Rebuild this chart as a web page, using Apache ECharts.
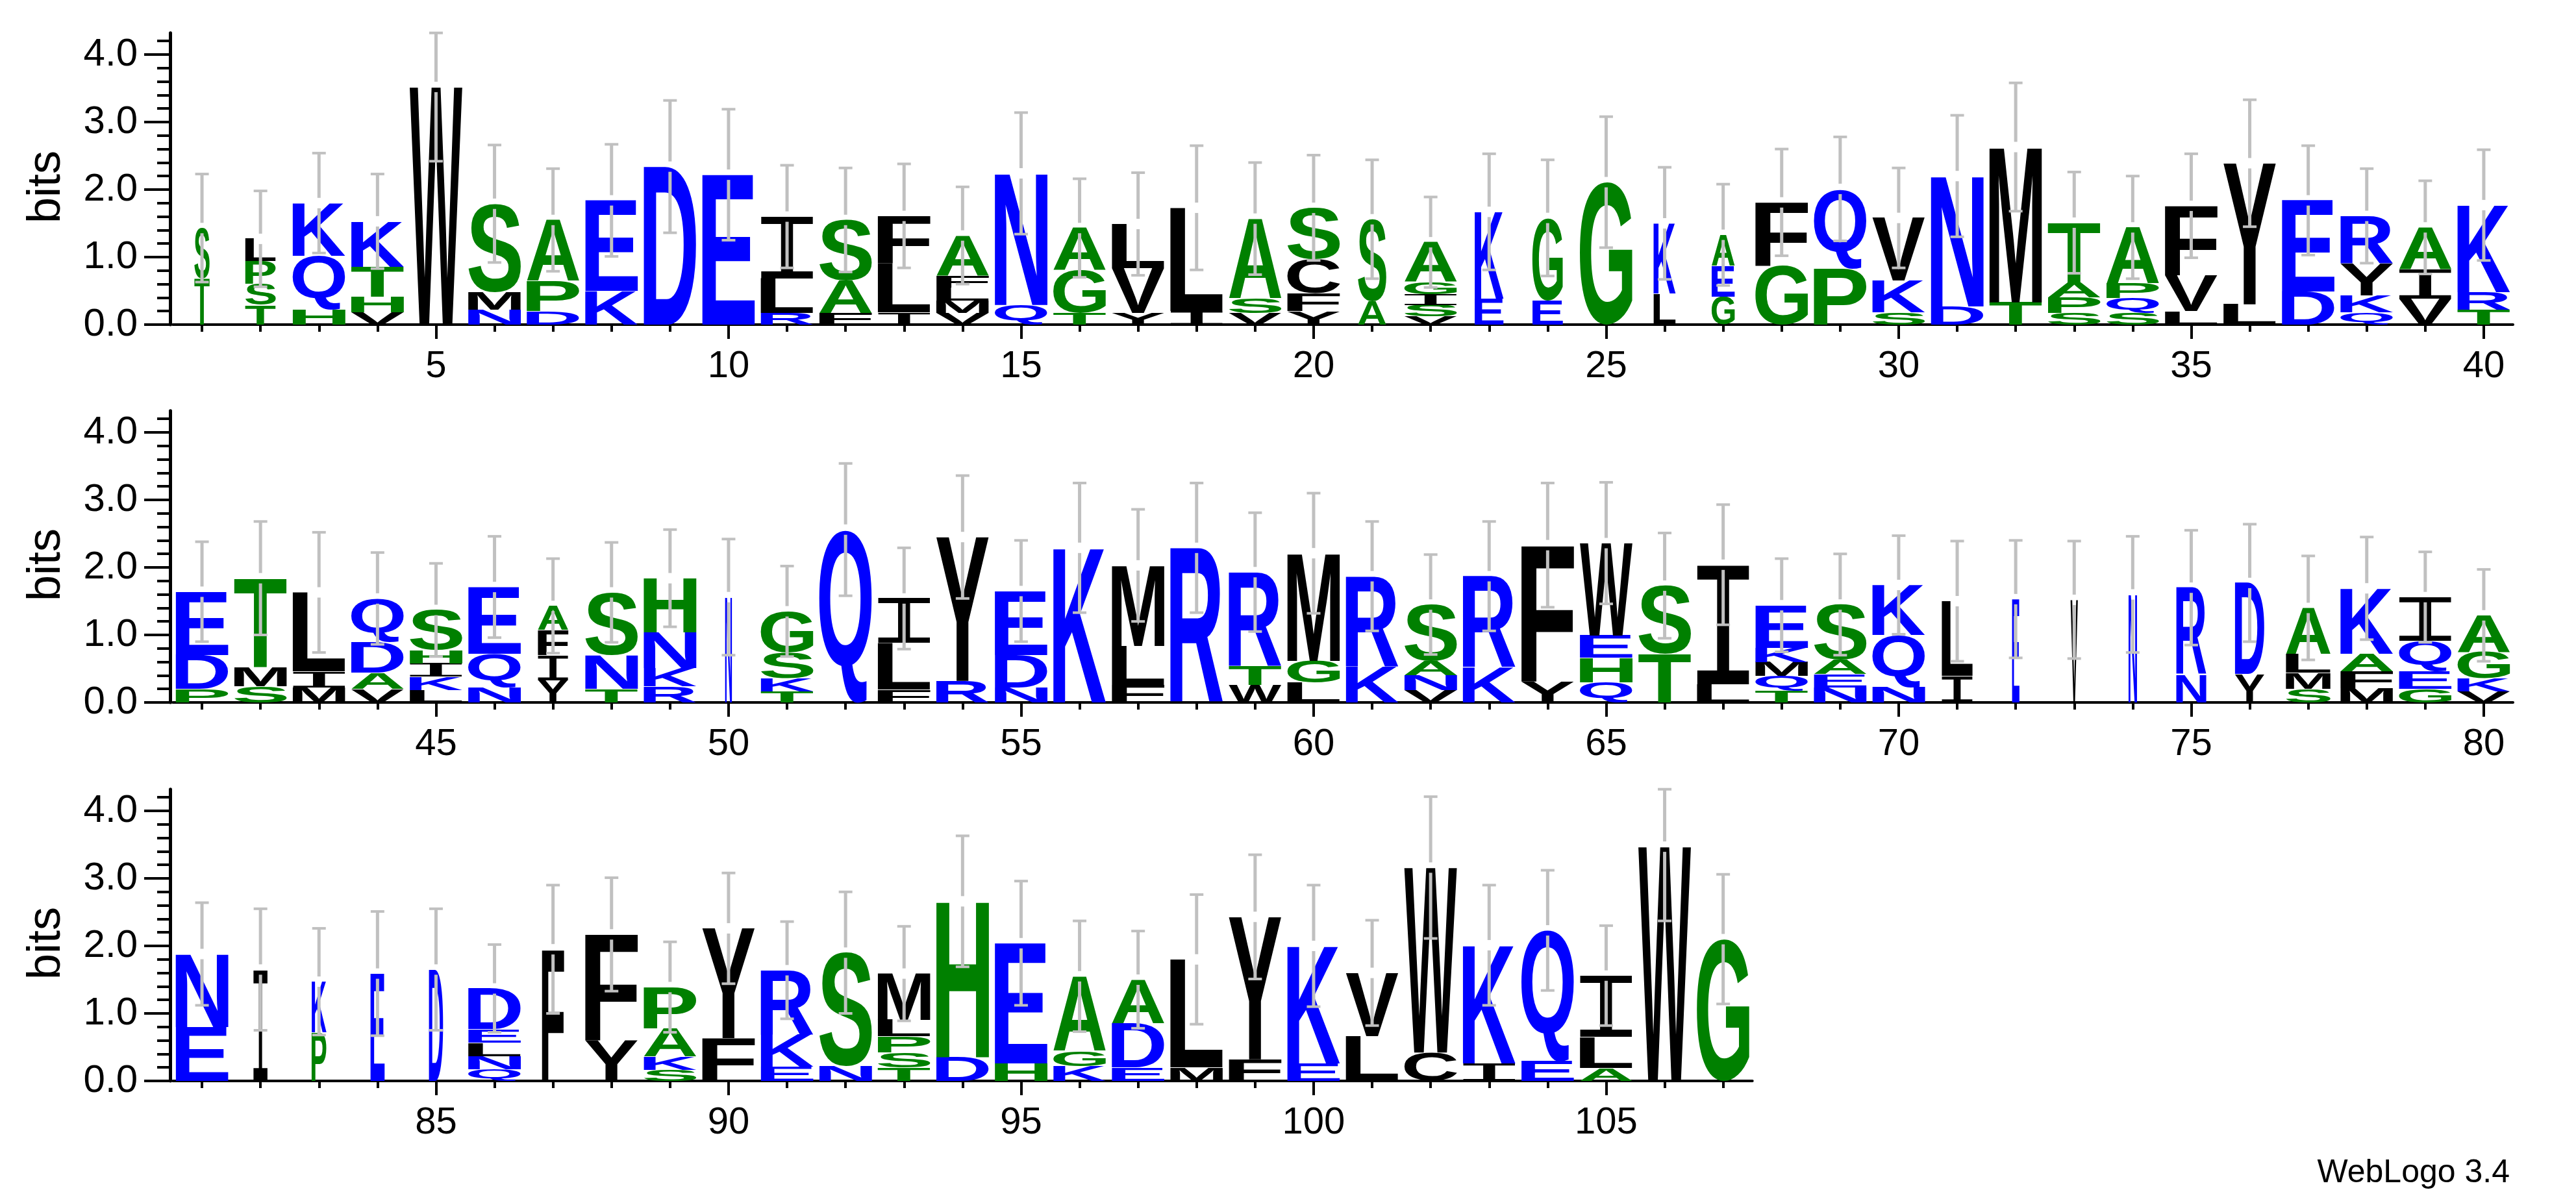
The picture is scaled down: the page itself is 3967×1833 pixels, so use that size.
<!DOCTYPE html>
<html><head><meta charset="utf-8">
<script src="https://cdn.jsdelivr.net/npm/echarts@6/dist/echarts.min.js"></script>
<style>html,body{margin:0;padding:0;background:#fff}#c{width:3967px;height:1833px}</style>
</head><body><div id="c"></div>
<script>
// ---- data (letters listed bottom -> top for each position) ----
const stackLetters = [
 'TS','TSPL','HQK','VHTK','W','NMS','DPA','KE','D','E',
 'RLI','FAS','ILF','VMLFA','QN','TGA','YVL','IL','VSA','YFCS',
 'AS','VSIGA','EK','EG','G','LK','GEA','GF','PQ','SKV',
 'DN','TM','SPAT','SQPA','LVF','LY','DE','QKYR','VIA','TRK',
 'PDE','SMT','MIL','VADQ','LKIHS','NQE','YIFA','TNS','RKNH','N',
 'TKSG','Q','FLI','RY','NDE','K','FLM','R','WTR','LGM',
 'KR','VNAS','KR','YF','QHEW','TS','LI','TQMKE','NEAS','NQK',
 'IL','E','V','N','NR','YD','SMLA','MFAK','GEQI','VKGA',
 'EN','I','PK','E','D','QNLED','F','YF','SKAP','FY',
 'EKR','NS','TSPLM','DH','HE','KGA','EDA','ML','FY','EK',
 'LV','CW','IK','EQ','ALI','W','G'
];
const stackHeights = [
 [0.68,0.75],[0.29,0.32,0.33,0.33],[0.22,0.8,0.78],[0.18,0.23,0.45,0.67],[3.52],
 [0.22,0.26,1.31],[0.2,0.45,0.9],[0.5,1.34],[2.34],[2.22],
 [0.17,0.51,0.92],[0.17,0.48,0.9],[0.18,0.72,0.71],[0.17,0.19,0.19,0.17,0.6],[0.29,1.95],
 [0.17,0.63,0.63],[0.17,0.67,0.65],[0.2,1.53],[0.17,0.22,1.18],[0.2,0.26,0.51,0.76],
 [0.35,1.21],[0.12,0.17,0.16,0.18,0.59],[0.38,1.29],[0.36,1.22],[2.11],
 [0.46,1.04],[0.41,0.46,0.46],[0.87,0.94],[0.83,1.18],[0.18,0.47,0.93],
 [0.27,1.93],[0.33,2.3],[0.17,0.23,0.22,0.89],[0.17,0.22,0.22,0.83],[0.2,0.53,1.03],
 [0.3,2.09],[0.49,1.35],[0.18,0.25,0.47,0.71],[0.38,0.44,0.62],[0.22,0.26,1.29],
 [0.2,0.5,0.94],[0.24,0.28,1.32],[0.22,0.24,1.17],[0.2,0.24,0.46,0.64],[0.18,0.2,0.2,0.2,0.59],
 [0.22,0.5,0.99],[0.33,0.37,0.37,0.36],[0.2,0.5,0.93],[0.24,0.27,0.53,0.8],[1.56],
 [0.16,0.2,0.38,0.61],[2.56],[0.19,0.69,0.66],[0.32,2.13],[0.22,0.48,0.95],
 [2.29],[0.26,0.58,1.19],[2.29],[0.26,0.28,1.39],[0.29,0.33,1.59],
 [0.53,1.34],[0.18,0.22,0.21,0.84],[0.52,1.35],[0.31,2.02],[0.3,0.36,0.33,1.37],
 [0.72,1.01],[0.27,1.77],[0.17,0.22,0.21,0.21,0.63],[0.22,0.2,0.21,0.82],[0.23,0.77,0.74],
 [0.39,1.11],[1.53],[1.52],[1.6],[0.41,1.29],
 [0.42,1.35],[0.2,0.24,0.28,0.68],[0.21,0.25,0.26,0.97],[0.2,0.26,0.45,0.65],[0.16,0.2,0.39,0.54],
 [0.8,1.08],[1.65],[0.72,0.75],[1.59],[1.65],
 [0.17,0.2,0.2,0.2,0.6],[1.95],[0.6,1.57],[0.16,0.2,0.42,0.61],[0.63,1.63],
 [0.21,0.48,0.95],[0.22,1.68],[0.2,0.22,0.24,0.24,0.69],[0.35,2.31],[0.26,1.78],
 [0.22,0.22,1.11],[0.2,0.65,0.65],[0.2,1.6],[0.32,2.11],[0.26,1.74],
 [0.66,0.94],[0.42,2.74],[0.26,1.75],[0.29,1.94],[0.19,0.46,0.91],
 [3.47],[2.1]
];
const errorBars = [
 0.8,0.71,0.74,0.7,1.1,0.87,0.76,0.83,0.98,0.97,
 0.76,0.77,0.77,0.72,0.9,0.73,0.76,0.92,0.83,0.78,
 0.88,0.67,0.86,0.86,0.97,0.83,0.75,0.79,0.77,0.74,
 0.9,0.95,0.75,0.76,0.77,0.94,0.81,0.7,0.69,0.82,
 0.74,0.84,0.89,0.68,0.69,0.75,0.7,0.74,0.72,0.86,
 0.67,0.98,0.75,0.91,0.75,0.96,0.83,0.96,0.88,0.89,
 0.81,0.74,0.81,0.92,0.9,0.78,0.89,0.69,0.75,0.73,
 0.89,0.87,0.87,0.86,0.85,0.87,0.77,0.76,0.67,0.68,
 0.76,0.9,0.79,0.92,0.9,0.65,0.95,0.84,0.67,0.82,
 0.72,0.9,0.7,0.97,0.92,0.82,0.72,0.96,0.92,0.9,
 0.78,1.05,0.89,0.89,0.74,1.1,0.96
];
const stackWidths = [
 0.29,0.58,1,1,1,1,1,1,1,1,
 1,1,1,1,1,1,1,1,1,1,
 0.54,1,0.55,0.58,1,0.42,0.44,1,1,1,
 1,1,1,1,1,1,1,1,1,1,
 1,1,1,1,1,1,0.58,1,1,0.13,
 1,1,1,1,1,1,1,1,1,1,
 1,1,1,1,1,1,1,1,1,1,
 0.59,0.14,0.14,0.16,0.57,0.56,0.85,1,1,1,
 1,0.27,0.28,0.27,0.27,1,0.42,1,1,1,
 1,1,1,1,1,1,1,1,1,1,
 1,1,1,1,1,1,1
];
const rowRanges = [[1,40],[41,80],[81,107]];
const yMajorTicks = [0,1,2,3,4];
const yMinorTicks = [0.2,0.4,0.6,0.8,1.2,1.4,1.6,1.8,2.2,2.4,2.6,2.8,3.2,3.4,3.6,3.8,4.2];
const xMajorTicks = [5,10,15,20,25,30,35,40,45,50,55,60,65,70,75,80,85,90,95,100,105];
const Y_MAX = 4.32;

// ---- styling / layout ----
const AA = 'ACDEFGHIKLMNPQRSTVWY';
const COLORS = {};
'RKDENQ'.split('').forEach(c=>COLORS[c]='#0000ff');
'SGHTAP'.split('').forEach(c=>COLORS[c]='#008000');
'YVMCLFIW'.split('').forEach(c=>COLORS[c]='#000000');
const L = {left:266, colW:90.1, baselines:[500,1082,1665], plotH:449.3};
const FONT_MAIN = 'bold 200px "Liberation Sans"';
const FONT_I = '200px "Liberation Mono"';

const mctx = document.createElement('canvas').getContext('2d');
mctx.textBaseline = 'middle'; mctx.textAlign = 'left';
const boxes = {};
AA.split('').forEach(ch=>{
  const font = ch==='I' ? FONT_I : FONT_MAIN;
  mctx.font = font;
  const m = mctx.measureText(ch);
  boxes[ch] = {L:m.actualBoundingBoxLeft, R:m.actualBoundingBoxRight, A:m.actualBoundingBoxAscent, D:m.actualBoundingBoxDescent, font};
});

function renderLetter(params, api){
  const pos = api.value(0), b = api.value(1), t = api.value(2);
  const ch = AA[api.value(3)];
  const wf = api.value(4);
  const p0 = api.coord([pos,b]), p1 = api.coord([pos,t]);
  const lw = api.size([1,0])[0]*0.9*wf;
  const x0 = p0[0]-lw/2, yTop = p1[1], yBot = p0[1];
  const g = boxes[ch];
  const sx = lw/(g.L+g.R), sy = (yBot-yTop)/(g.A+g.D);
  return {type:'text', x:x0+sx*g.L, y:yTop+sy*g.A, scaleX:sx, scaleY:sy, silent:true,
    style:{text:ch, font:g.font, fill:COLORS[ch], align:'left', verticalAlign:'middle', textAlign:'left', textVerticalAlign:'middle'}};
}
function renderErr(params, api){
  const p = api.value(0), t = api.value(1), e = api.value(2);
  const c = api.coord([p,t]);
  const yHi = api.coord([p, Math.min(t+e, Y_MAX)])[1];
  const yLo = api.coord([p, Math.max(t-e, 0)])[1];
  const x = c[0], gap = 8, cap = 10.5;
  const st = {stroke:'#c0c0c0', lineWidth:5};
  const cs = {stroke:'#c0c0c0', lineWidth:4};
  return {type:'group', silent:true, children:[
    {type:'line', shape:{x1:x,y1:yHi,x2:x,y2:c[1]-gap}, style:st},
    {type:'line', shape:{x1:x,y1:c[1]+gap,x2:x,y2:yLo}, style:st},
    {type:'line', shape:{x1:x-cap,y1:yHi,x2:x+cap,y2:yHi}, style:cs},
    {type:'line', shape:{x1:x-cap,y1:yLo,x2:x+cap,y2:yLo}, style:cs}
  ]};
}

const grids=[], xAxes=[], yAxes=[], series=[], graphics=[];
const txt = {fontFamily:'"Liberation Sans", Arial, sans-serif', color:'#000'};
rowRanges.forEach(([s,e],r)=>{
  const n = e-s+1;
  grids.push({left:L.left, top:L.baselines[r]-L.plotH, width:n*L.colW, height:L.plotH, containLabel:false, outerBoundsMode:'none'});
  const posTicks=[]; for(let p=s;p<=e;p++) posTicks.push(p);
  const major = xMajorTicks.filter(p=>p>=s && p<=e);
  xAxes.push({gridIndex:r, type:'value', min:s-0.5, max:e+0.5, position:'bottom', offset:0,
    axisLine:{show:true, onZero:false, lineStyle:{color:'#000', width:4}},
    axisTick:{show:true, customValues:posTicks, length:11, lineStyle:{color:'#000', width:4}},
    axisLabel:{show:false}, splitLine:{show:false}});
  xAxes.push({gridIndex:r, type:'value', min:s-0.5, max:e+0.5, position:'bottom', offset:0,
    axisLine:{show:false, onZero:false},
    axisTick:{show:true, customValues:major, length:22, lineStyle:{color:'#000', width:4}},
    axisLabel:Object.assign({show:true, customValues:major, fontSize:58, margin:36}, txt),
    splitLine:{show:false}});
  yAxes.push({gridIndex:r, type:'value', min:0, max:Y_MAX, position:'left', offset:4,
    axisLine:{show:true, onZero:false, lineStyle:{color:'#000', width:5}},
    axisTick:{show:true, customValues:yMajorTicks, length:40, lineStyle:{color:'#000', width:4}},
    axisLabel:Object.assign({show:true, customValues:yMajorTicks, formatter:v=>Number(v).toFixed(1), fontSize:60, margin:50}, txt),
    splitLine:{show:false}});
  yAxes.push({gridIndex:r, type:'value', min:0, max:Y_MAX, position:'left', offset:4,
    axisLine:{show:false, onZero:false},
    axisTick:{show:true, customValues:yMinorTicks, length:20, lineStyle:{color:'#000', width:4}},
    axisLabel:{show:false}, splitLine:{show:false}});
  const letterData=[], errData=[];
  for(let p=s;p<=e;p++){
    const seq = stackLetters[p-1], hs = stackHeights[p-1];
    let base=0;
    for(let i=0;i<seq.length;i++){
      letterData.push([p, base, base+hs[i], AA.indexOf(seq[i]), stackWidths[p-1]]);
      base += hs[i];
    }
    errData.push([p, base, errorBars[p-1]]);
  }
  series.push({type:'custom', xAxisIndex:2*r, yAxisIndex:2*r, clip:false, renderItem:renderLetter, data:letterData, encode:{x:0,y:[1,2]}, z:2});
  series.push({type:'custom', xAxisIndex:2*r, yAxisIndex:2*r, clip:false, renderItem:renderErr, data:errData, encode:{x:0,y:1}, z:3});
  graphics.push({type:'text', x:72, y:L.baselines[r]-212, rotation:Math.PI/2,
    style:{text:'bits', font:'72px "Liberation Sans"', fill:'#000', align:'center', verticalAlign:'middle', textAlign:'center', textVerticalAlign:'middle'}});
});
graphics.push({type:'text', x:3865, y:1807,
  style:{text:'WebLogo 3.4', font:'50px "Liberation Sans"', fill:'#000', align:'right', verticalAlign:'middle', textAlign:'right', textVerticalAlign:'middle'}});

const chart = echarts.init(document.getElementById('c'), null, {renderer:'canvas'});
chart.setOption({
  animation:false,
  backgroundColor:'#ffffff',
  grid:grids, xAxis:xAxes, yAxis:yAxes, series:series, graphic:graphics
});
</script>
</body></html>
